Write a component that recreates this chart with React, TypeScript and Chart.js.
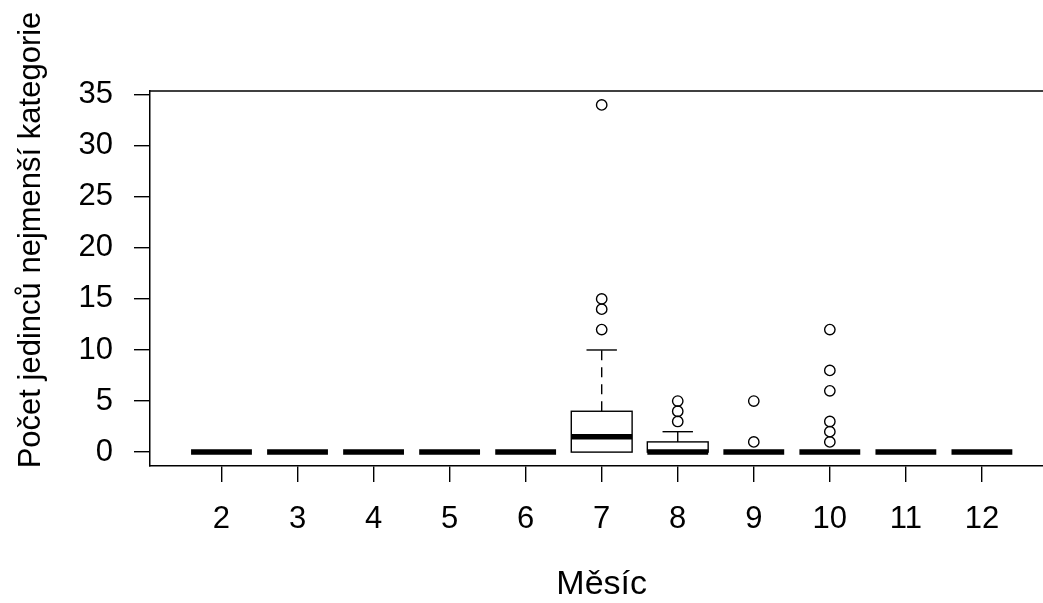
import React, { useEffect, useRef } from 'react';
import { Chart, registerables } from 'chart.js';

Chart.register(...registerables);

// ---- data ----
const months = ['2', '3', '4', '5', '6', '7', '8', '9', '10', '11', '12'];
const lowerWhisker = [0, 0, 0, 0, 0, 0, 0, 0, 0, 0, 0];
const q1 = [0, 0, 0, 0, 0, 0, 0, 0, 0, 0, 0];
const medians = [0, 0, 0, 0, 0, 1.5, 0, 0, 0, 0, 0];
const q3 = [0, 0, 0, 0, 0, 4, 1, 0, 0, 0, 0];
const upperWhisker = [0, 0, 0, 0, 0, 10, 2, 0, 0, 0, 0];
const outliers: number[][] = [
  [], [], [], [], [],
  [12, 14, 15, 34],
  [3, 4, 5],
  [1, 5],
  [1, 2, 3, 6, 8, 12],
  [], [],
];
const yTicks = [0, 5, 10, 15, 20, 25, 30, 35];
const xTitle = 'Měsíc';
const yTitle = 'Počet jedinců nejmenší kategorie';

const FONT = '"Liberation Sans", Arial, sans-serif';
const W = 1060;
const H = 603;

const boxPlugin = {
  id: 'rBoxes',
  afterDatasetsDraw(chart: any) {
    const { ctx, scales, chartArea } = chart;
    const x = scales.x;
    const y = scales.y;
    const line = (x1: number, y1: number, x2: number, y2: number) => {
      ctx.beginPath();
      ctx.moveTo(x1, y1);
      ctx.lineTo(x2, y2);
      ctx.stroke();
    };
    ctx.save();
    ctx.strokeStyle = '#000';
    ctx.lineCap = 'butt';
    months.forEach((_m, i) => {
      const pos = i + 1;
      const xc = x.getPixelForValue(pos);
      const hw = x.getPixelForValue(pos + 0.4) - xc;
      const cw = hw / 2;
      const yQ1 = y.getPixelForValue(q1[i]);
      const yQ3 = y.getPixelForValue(q3[i]);
      const yMed = y.getPixelForValue(medians[i]);
      const yUw = y.getPixelForValue(upperWhisker[i]);
      const yLw = y.getPixelForValue(lowerWhisker[i]);
      ctx.lineWidth = 1.4;
      if (upperWhisker[i] > q3[i]) {
        ctx.setLineDash([10, 7]);
        line(xc, yQ3, xc, yUw);
        ctx.setLineDash([]);
        line(xc - cw, yUw, xc + cw, yUw);
      }
      if (lowerWhisker[i] < q1[i]) {
        ctx.setLineDash([10, 7]);
        line(xc, yQ1, xc, yLw);
        ctx.setLineDash([]);
        line(xc - cw, yLw, xc + cw, yLw);
      }
      if (q3[i] > q1[i]) {
        ctx.strokeRect(xc - hw, yQ3, 2 * hw, yQ1 - yQ3);
      }
      ctx.lineWidth = 5.5;
      line(xc - hw, yMed, xc + hw, yMed);
    });
    // frame: top and right sides
    ctx.lineWidth = 1.5;
    line(chartArea.left, chartArea.top, chartArea.right, chartArea.top);
    line(chartArea.right, chartArea.top, chartArea.right, chartArea.bottom);
    ctx.restore();
  },
  afterDraw(chart: any) {
    const { ctx } = chart;
    ctx.save();
    ctx.translate(31, 240);
    ctx.rotate(-Math.PI / 2);
    ctx.font = `31px ${FONT}`;
    ctx.fillStyle = '#000';
    ctx.textAlign = 'center';
    ctx.textBaseline = 'middle';
    ctx.fillText(yTitle, 0, 0);
    ctx.restore();
  },
};

export default function App() {
  const ref = useRef<HTMLCanvasElement | null>(null);

  useEffect(() => {
    document.documentElement.style.overflow = 'hidden';
    document.body.style.overflow = 'hidden';
    const canvas = ref.current;
    if (!canvas) return;

    const outlierPoints: { x: number; y: number }[] = [];
    outliers.forEach((vals, i) => vals.forEach((v) => outlierPoints.push({ x: i + 1, y: v })));

    const chart = new Chart(canvas, {
      type: 'scatter',
      data: {
        datasets: [
          {
            label: 'outliers',
            data: outlierPoints,
            pointRadius: 5.2,
            pointBorderWidth: 1.4,
            borderColor: '#000',
            backgroundColor: 'rgba(0,0,0,0)',
            pointStyle: 'circle',
          },
        ],
      },
      options: {
        responsive: false,
        animation: false,
        devicePixelRatio: 1,
        layout: { padding: { top: 91, right: 6, left: 0, bottom: 0 } },
        plugins: { legend: { display: false }, tooltip: { enabled: false } },
        scales: {
          x: {
            type: 'linear',
            min: 0.06,
            max: 11.94,
            afterBuildTicks: (scale: any) => {
              scale.ticks = months.map((_m, i) => ({ value: i + 1 }));
            },
            afterFit: (scale: any) => {
              scale.height = 137;
            },
            ticks: {
              autoSkip: false,
              maxRotation: 0,
              color: '#000',
              font: { family: FONT, size: 31 },
              padding: 19,
              callback: (v: any) => months[Math.round(Number(v)) - 1] ?? '',
            },
            grid: {
              drawOnChartArea: false,
              drawTicks: true,
              tickLength: 16,
              color: '#000',
              lineWidth: 1.4,
            },
            border: { display: true, color: '#000', width: 1.5 },
            title: {
              display: true,
              text: xTitle,
              color: '#000',
              font: { family: FONT, size: 34 },
              padding: { top: 0, bottom: -2 },
            },
          },
          y: {
            type: 'linear',
            min: -1.36,
            max: 35.36,
            afterBuildTicks: (scale: any) => {
              scale.ticks = yTicks.map((v) => ({ value: v }));
            },
            afterFit: (scale: any) => {
              scale.width = 150;
            },
            ticks: {
              color: '#000',
              font: { family: FONT, size: 31 },
              padding: 21,
              callback: (v: any) => String(v),
            },
            grid: {
              drawOnChartArea: false,
              drawTicks: true,
              tickLength: 16,
              color: '#000',
              lineWidth: 1.4,
            },
            border: { display: true, color: '#000', width: 1.5 },
          },
        },
      },
      plugins: [boxPlugin],
    });
    return () => chart.destroy();
  }, []);

  return (
    <div style={{ position: 'fixed', left: 0, top: 0, width: W, height: H, background: '#fff' }}>
      <canvas ref={ref} width={W} height={H} style={{ width: W, height: H, display: 'block' }} />
    </div>
  );
}
